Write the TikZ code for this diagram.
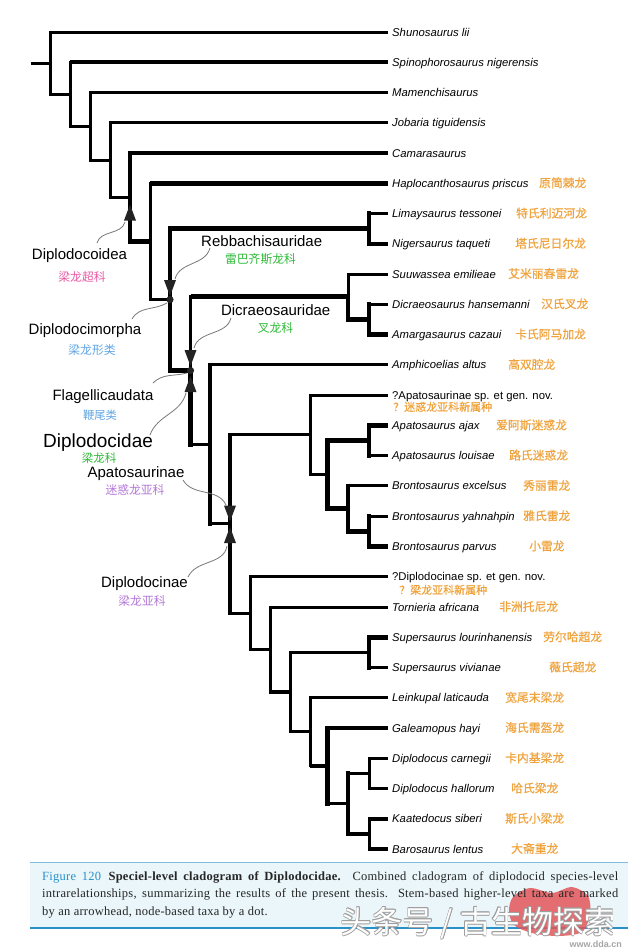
\documentclass[tikz,border=0pt]{standalone}
\usepackage{fontspec}
\setmainfont{Liberation Sans}
\newfontfamily\cjk{Noto Sans CJK SC}
\newfontfamily\cjkb{Noto Sans CJK SC}[FakeBold=0.4]
\newfontfamily\capserif{Liberation Serif}[LetterSpace=2]
\usetikzlibrary{calc}
\definecolor{orng}{RGB}{240,163,60}
\definecolor{pinkc}{RGB}{232,90,165}
\definecolor{bluec}{RGB}{95,165,230}
\definecolor{greenc}{RGB}{45,185,55}
\definecolor{purplec}{RGB}{180,120,215}
\definecolor{capblue}{RGB}{40,145,200}
\definecolor{capbg}{RGB}{234,246,250}
\definecolor{leadgray}{RGB}{120,120,120}
\definecolor{arrowfill}{RGB}{35,35,35}
\definecolor{blobred}{RGB}{226,86,90}
\tikzset{
 thinln/.style={line width=3pt},
 thickln/.style={line width=4.6pt},
 taxon/.style={anchor=base west, inner sep=0pt, font=\fontsize{11.3}{13}\selectfont\itshape, text=black},
 taxonup/.style={anchor=base west, inner sep=0pt, font=\fontsize{11.3}{13}\selectfont, text=black},
 cnname/.style={anchor=base west, inner sep=0pt, font=\cjkb\fontsize{11.8}{14}\selectfont, text=orng},
 cladelab/.style={anchor=base, inner sep=0pt, font=\fontsize{15}{17}\selectfont, text=black},
 cladecn/.style={anchor=base, inner sep=0pt, font=\cjk\fontsize{11.8}{14}\selectfont},
 leader/.style={draw=leadgray, line width=0.8pt},
 capline/.style={anchor=base west, inner sep=0pt, font=\capserif\fontsize{12.5}{14}\selectfont, text=black!85},
 wmark/.style={inner sep=0pt, font=\cjk\fontsize{31}{31}\selectfont},
}
\newcommand{\edg}[4]{\draw[#1,line cap=rect] (#3) -- (#3|-#4); \draw[#2,line cap=butt] (#3|-#4) -- (#4);}
\newcommand{\tipn}[3]{\coordinate (t#1) at (388,#2); \node[taxon] (s#1) at (392,#2+4) {#3};}
\newcommand{\tipc}[5]{\coordinate (t#1) at (388,#2); \node[taxon] (s#1) at (392,#2+4) {#3}; \node[cnname] (c#1) at (#4,#2+4) {#5};}
\newcommand{\arrup}[2]{\fill[arrowfill] (#1,#2) -- ++(-6,16) -- ++(12,0) -- cycle;}
\newcommand{\arrdn}[2]{\fill[arrowfill] (#1,#2) -- ++(-6,-16) -- ++(12,0) -- cycle;}
\begin{document}
\begin{tikzpicture}[x=1pt,y=-1pt]
\useasboundingbox (0,0) rectangle (641,951);
\fill[white] (0,0) rectangle (641,951);
% tips
\tipn{1}{32}{Shunosaurus lii}
\tipn{2}{62}{Spinophorosaurus nigerensis}
\tipn{3}{92.5}{Mamenchisaurus}
\tipn{4}{122.8}{Jobaria tiguidensis}
\tipn{5}{153}{Camarasaurus}
\tipc{6}{183.3}{Haplocanthosaurus priscus}{539}{原简棘龙}
\tipc{7}{213.6}{Limaysaurus tessonei}{516}{特氏利迈河龙}
\tipc{8}{243.8}{Nigersaurus taqueti}{515}{塔氏尼日尔龙}
\tipc{9}{274}{Suuwassea emilieae}{508}{艾米丽春雷龙}
\tipc{10}{304.3}{Dicraeosaurus hansemanni}{541}{汉氏叉龙}
\tipc{11}{334.6}{Amargasaurus cazaui}{515}{卡氏阿马加龙}
\tipc{12}{364.9}{Amphicoelias altus}{508}{高双腔龙}
\coordinate (t13) at (388,395.1);
\node[taxonup] (s13) at (392,399.1) {?Apatosaurinae sp. et gen. nov.};
\node[cnname, font=\cjkb\fontsize{11}{13}\selectfont] (c13) at (393,411) {？迷惑龙亚科新属种};
\tipc{14}{425.4}{Apatosaurus ajax}{496}{爱阿斯迷惑龙}
\tipc{15}{455.6}{Apatosaurus louisae}{509}{路氏迷惑龙}
\tipc{16}{485.9}{Brontosaurus excelsus}{523}{秀丽雷龙}
\tipc{17}{516.2}{Brontosaurus yahnahpin}{523}{雅氏雷龙}
\tipc{18}{546.4}{Brontosaurus parvus}{529}{小雷龙}
\coordinate (t19) at (388,576.7);
\node[taxonup] (s19) at (392,580.7) {?Diplodocinae sp. et gen. nov.};
\node[cnname, font=\cjkb\fontsize{11}{13}\selectfont] (c19) at (399,594) {？梁龙亚科新属种};
\tipc{20}{607}{Tornieria africana}{499}{非洲托尼龙}
\tipc{21}{637.2}{Supersaurus lourinhanensis}{543}{劳尔哈超龙}
\tipc{22}{667.5}{Supersaurus vivianae}{549}{薇氏超龙}
\tipc{23}{697.8}{Leinkupal laticauda}{505}{宽尾末梁龙}
\tipc{24}{728}{Galeamopus hayi}{505}{海氏需盔龙}
\tipc{25}{758.3}{Diplodocus carnegii}{505}{卡内基梁龙}
\tipc{26}{788.5}{Diplodocus hallorum}{511}{哈氏梁龙}
\tipc{27}{818.8}{Kaatedocus siberi}{505}{斯氏小梁龙}
\tipc{28}{849}{Barosaurus lentus}{511}{大斋重龙}
% internal nodes
\coordinate (root) at (31,63.05);
\coordinate (n0) at (50,63.05);
\coordinate (n1) at (70,94.1);
\coordinate (n2) at (90,126.25);
\coordinate (n3) at (110,160);
\coordinate (n4) at (130,197.2);
\coordinate (nDoid) at (150,241.45);
\coordinate (nMorph) at (170,299.6);
\coordinate (nRebb) at (369,228.7);
\coordinate (nFlag) at (190.5,370.55);
\coordinate (nDicr) at (348,296.7);
\coordinate (nDicrB) at (369,319.45);
\coordinate (nDocid) at (210,444.4);
\coordinate (nJ) at (230,523.95);
\coordinate (nApat) at (310,434.8);
\coordinate (nL) at (327.5,474.55);
\coordinate (nApato) at (369,440.5);
\coordinate (nBront) at (348,508.6);
\coordinate (nBB) at (369,531.3);
\coordinate (nDinae) at (250,613.1);
\coordinate (nN) at (270,649.55);
\coordinate (nO) at (290,692.1);
\coordinate (nSup) at (369,652.35);
\coordinate (nP) at (310,731.8);
\coordinate (nQ) at (327.5,765.8);
\coordinate (nR) at (348,803.65);
\coordinate (nDip) at (369,773.4);
\coordinate (nKB) at (369,833.9);
% branches
\draw[thinln] (root) -- (n0);
\edg{thinln}{thinln}{n0}{t1}
\edg{thinln}{thinln}{n0}{n1}
\edg{thinln}{thickln}{n1}{t2}
\edg{thinln}{thinln}{n1}{n2}
\edg{thinln}{thinln}{n2}{t3}
\edg{thinln}{thinln}{n2}{n3}
\edg{thinln}{thinln}{n3}{t4}
\edg{thinln}{thinln}{n3}{n4}
\edg{thickln}{thickln}{n4}{t5}
\edg{thickln}{thickln}{n4}{nDoid}
\edg{thinln}{thickln}{nDoid}{t6}
\edg{thinln}{thinln}{nDoid}{nMorph}
\edg{thickln}{thickln}{nMorph}{nRebb}
\edg{thickln}{thickln}{nMorph}{nFlag}
\edg{thickln}{thinln}{nRebb}{t7}
\edg{thickln}{thickln}{nRebb}{t8}
\edg{thinln}{thickln}{nFlag}{nDicr}
\edg{thickln}{thinln}{nFlag}{nDocid}
\edg{thinln}{thinln}{nDicr}{t9}
\edg{thickln}{thickln}{nDicr}{nDicrB}
\edg{thickln}{thinln}{nDicrB}{t10}
\edg{thickln}{thickln}{nDicrB}{t11}
\edg{thickln}{thinln}{nDocid}{t12}
\edg{thickln}{thinln}{nDocid}{nJ}
\edg{thickln}{thinln}{nJ}{nApat}
\edg{thickln}{thinln}{nJ}{nDinae}
\edg{thinln}{thinln}{nApat}{t13}
\edg{thinln}{thinln}{nApat}{nL}
\edg{thickln}{thickln}{nL}{nApato}
\edg{thickln}{thickln}{nL}{nBront}
\edg{thickln}{thickln}{nApato}{t14}
\edg{thickln}{thinln}{nApato}{t15}
\edg{thickln}{thinln}{nBront}{t16}
\edg{thickln}{thickln}{nBront}{nBB}
\edg{thickln}{thinln}{nBB}{t17}
\edg{thickln}{thickln}{nBB}{t18}
\edg{thinln}{thinln}{nDinae}{t19}
\edg{thinln}{thinln}{nDinae}{nN}
\edg{thinln}{thinln}{nN}{t20}
\edg{thinln}{thickln}{nN}{nO}
\edg{thinln}{thinln}{nO}{nSup}
\edg{thinln}{thinln}{nO}{nP}
\edg{thickln}{thickln}{nSup}{t21}
\edg{thickln}{thinln}{nSup}{t22}
\edg{thinln}{thinln}{nP}{t23}
\edg{thinln}{thickln}{nP}{nQ}
\edg{thickln}{thickln}{nQ}{t24}
\edg{thickln}{thinln}{nQ}{nR}
\edg{thickln}{thinln}{nR}{nDip}
\edg{thickln}{thickln}{nR}{nKB}
\edg{thinln}{thinln}{nDip}{t25}
\edg{thinln}{thinln}{nDip}{t26}
\edg{thinln}{thickln}{nKB}{t27}
\edg{thinln}{thickln}{nKB}{t28}
% markers
\arrup{130}{204.5}
\arrdn{170}{296}
\arrdn{190.5}{366}
\arrup{190.5}{376}
\arrdn{230}{521.5}
\arrup{230}{527}
\fill[arrowfill] (nMorph) circle (3.6pt);
\fill[arrowfill] (nFlag) circle (3.6pt);
% clade labels
\node[cladelab] (lDoid) at (79.5,259) {Diplodocoidea};
\node[cladecn, text=pinkc] (cDoid) at (82,281.5) {梁龙超科};
\node[cladelab] (lMorph) at (85,334) {Diplodocimorpha};
\node[cladecn, text=bluec] (cMorph) at (92,354.5) {梁龙形类};
\node[cladelab] (lRebb) at (261.7,246) {Rebbachisauridae};
\node[cladecn, text=greenc] (cRebb) at (260.5,263.5) {雷巴齐斯龙科};
\node[cladelab] (lDicr) at (275.7,315.5) {Dicraeosauridae};
\node[cladecn, text=greenc] (cDicr) at (275.5,332.5) {叉龙科};
\node[cladelab] (lFlag) at (103,400.7) {Flagellicaudata};
\node[cladecn, text=bluec, font=\cjk\fontsize{11.3}{13}\selectfont] (cFlag) at (100,419.5) {鞭尾类};
\node[cladelab, font=\fontsize{19}{21}\selectfont] (lDocid) at (98,447.5) {Diplodocidae};
\node[cladecn, text=greenc, font=\cjk\fontsize{11.5}{13}\selectfont] (cDocid) at (99,462.5) {梁龙科};
\node[cladelab] (lApat) at (136,477.5) {Apatosaurinae};
\node[cladecn, text=purplec] (cApat) at (135,494.5) {迷惑龙亚科};
\node[cladelab] (lDinae) at (144.5,587.5) {Diplodocinae};
\node[cladecn, text=purplec] (cDinae) at (142,605.5) {梁龙亚科};
% leader curves
\coordinate (aDoid) at (97,243);   \coordinate (bDoid) at (125,222);
\coordinate (aRebb) at (210,248);  \coordinate (bRebb) at (175,279);
\coordinate (aMorph) at (132,319); \coordinate (bMorph) at (167,303);
\coordinate (aDicr) at (231,318);  \coordinate (bDicr) at (194,348);
\coordinate (aFlag) at (153,383);  \coordinate (bFlag) at (187,373);
\coordinate (aDocid) at (150,435); \coordinate (bDocid) at (186,393);
\coordinate (aApat) at (183,480);  \coordinate (bApat) at (226,505);
\coordinate (aDinae) at (188,577); \coordinate (bDinae) at (227,546);
\draw[leader] (aDoid) to[out=75,in=-105] (bDoid);
\draw[leader] (aRebb) to[out=-105,in=75] (bRebb);
\draw[leader] (aMorph) to[out=60,in=-150] (bMorph);
\draw[leader] (aDicr) to[out=-105,in=75] (bDicr);
\draw[leader] (aFlag) to[out=45,in=-165] (bFlag);
\draw[leader] (aDocid) to[out=70,in=-105] (bDocid);
\draw[leader] (aApat) to[out=-60,in=115] (bApat);
\draw[leader] (aDinae) to[out=65,in=-100] (bDinae);
% caption
\fill[capbg] (30,862) rectangle (628,928);
\draw[capblue!60, line width=1pt] (30,862) -- (628,862);
\draw[capblue, line width=2.2pt] (30,928) -- (628,928);
\fill[blobred, opacity=0.85] plot[smooth cycle] coordinates {(513,897) (530,888) (552,893) (572,887) (588,896) (590,914) (582,932) (558,936) (532,933) (514,925) (509,911)};
\node[capline] (cap1) at (42,880.5) {\makebox[576pt][s]{\textcolor{capblue}{Figure 120}\hspace{0.6em}\textbf{Speciel-level cladogram of Diplodocidae.} Combined cladogram of diplodocid species-level}};
\node[capline] (cap2) at (42,897.5) {\makebox[576pt][s]{intrarelationships, summarizing the results of the present thesis. Stem-based higher-level taxa are marked}};
\node[capline] (cap3) at (42,915) {by an arrowhead, node-based taxa by a dot.};
% watermark
\foreach \dx/\dy [count=\k] in {-0.8/0,0.8/0,0/-0.8,0/0.8,-0.6/-0.6,0.6/0.6,-0.6/0.6,0.6/-0.6}
  \node[wmark, text=gray!75] (wmo\k) at ($(478,923)+(\dx,\dy)$) {头条号 / 古生物探索};
\node[wmark, text=white] (wm) at (478,923) {头条号 / 古生物探索};
\node[anchor=base east, inner sep=0pt, font=\bfseries\fontsize{9}{9}\selectfont, text=gray!70] (www) at (622,947) {www.dda.cn};
\end{tikzpicture}
\end{document}
